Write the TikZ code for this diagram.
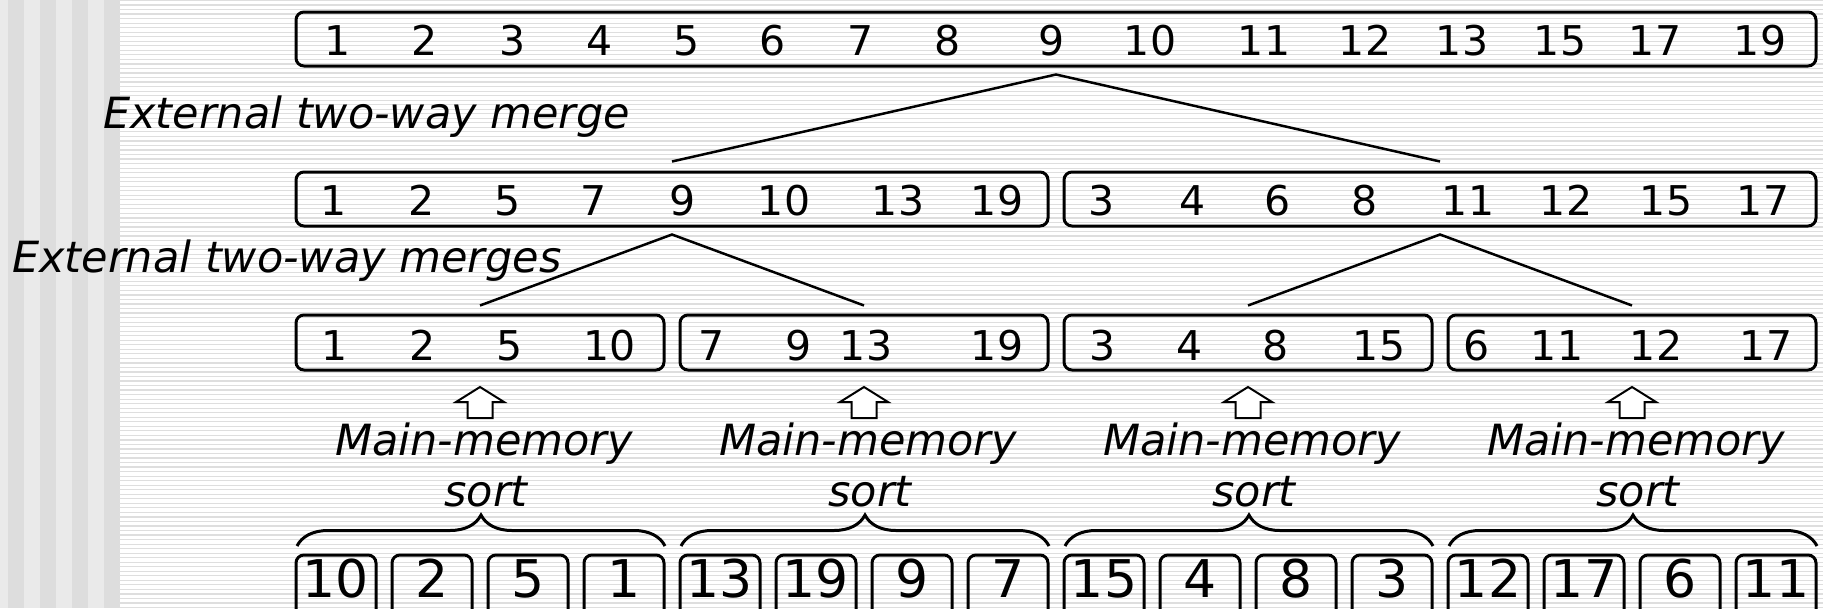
\documentclass[tikz,border=0pt]{standalone}
\usepackage{fontspec}
\setmainfont{DejaVu Sans}[ItalicFont={DejaVu Sans Oblique}]
\usetikzlibrary{calc,decorations.pathreplacing}
\definecolor{stripeA}{RGB}{234,234,234}
\definecolor{stripeB}{RGB}{221,221,221}
\definecolor{ruleline}{RGB}{222,222,222}
\tikzset{
  runbox/.style={draw, line width=3pt, rounded corners=8pt, inner sep=0pt, fill=none},
  num/.style={anchor=base, inner sep=0pt, font=\fontsize{41}{49}\selectfont},
  bignum/.style={anchor=base, inner sep=0pt, font=\fontsize{52}{60}\selectfont},
  lbl/.style={anchor=base, inner sep=0pt, font=\fontsize{43}{51}\selectfont\itshape},
  conn/.style={line width=2.5pt, line join=miter},
  brc/.style={decorate, decoration={brace, amplitude=31pt}, line width=3pt},
  blockarrow/.style={draw, line width=2pt, fill=white, line join=miter}
}
\begin{document}
\begin{tikzpicture}[x=1pt, y=-1pt]
\useasboundingbox (0,0) rectangle (1823,608);
% slide background: vertical bands on the left, ruled paper on the right
\fill[white] (0,0) rectangle (1823,608);
\fill[stripeA] (0,0) rectangle (119,608);
\foreach \a in {8,40,72,104} \fill[stripeB] (\a,0) rectangle (\a+16,608);
\foreach \k in {0,...,134} \draw[ruleline, line width=1.2pt] (119,0.5+4.53*\k) -- (1823,0.5+4.53*\k);
\clip (0,0) rectangle (1823,608);

% fully merged run
\node[runbox, minimum width=1520pt, minimum height=54pt] (r1) at (1056,39) {};
\foreach \v/\x in {1/338,2/425,3/513,4/600,5/687,6/773,7/861,8/948,9/1052,10/1150,11/1264,12/1365,13/1462,15/1560,17/1655,19/1760}
  \node[num] (t\v) at (\x,55) {\v};

% runs after the first merge pass
\node[runbox, minimum width=752pt, minimum height=54pt] (r2a) at (672,199) {};
\node[runbox, minimum width=752pt, minimum height=54pt] (r2b) at (1440,199) {};
\foreach \v/\x [count=\i] in {1/334,2/422,5/508,7/594,9/683,10/784,13/898,19/997}
  \node[num] (ma\i) at (\x,215) {\v};
\foreach \v/\x [count=\i] in {3/1102,4/1193,6/1278,8/1365,11/1468,12/1566,15/1666,17/1763}
  \node[num] (mb\i) at (\x,215) {\v};

% sorted runs of four
\foreach \c/\n in {480/1,864/2,1248/3,1632/4}
  \node[runbox, minimum width=368pt, minimum height=55pt] (r3\n) at (\c,342.5) {};
\foreach \v/\x [count=\i] in {1/335,2/423,5/510,10/610,7/712,9/799,13/866,19/997,3/1103,4/1190,8/1276,15/1379,6/1477,11/1557,12/1656,17/1766}
  \node[num] (s\i) at (\x,360) {\v};

% unsorted input blocks
\foreach \v [count=\i from 0] in {10,2,5,1,13,19,9,7,15,4,8,3,12,17,6,11} {
  \pgfmathsetmacro{\bx}{336+96*\i}
  \node[runbox, minimum width=80pt, minimum height=85pt] (b\i) at (\bx,597.5) {};
  \node[bignum] (bv\i) at (\bx,597) {\v};
}

% merge trees
\draw[conn] ($(r2a.north)+(0,-9)$) -- ($(r1.south)+(0,7)$) -- ($(r2b.north)+(0,-9)$);
\draw[conn] ($(r31.north)+(0,-8)$) -- ($(r2a.south)+(0,7)$) -- ($(r32.north)+(0,-8)$);
\draw[conn] ($(r33.north)+(0,-8)$) -- ($(r2b.south)+(0,7)$) -- ($(r34.north)+(0,-8)$);

\node[lbl, anchor=base west] (lab1) at (103,128) {External two-way merge};
\node[lbl, anchor=base west] (lab2) at (12,272) {External two-way merges};

% main-memory sort of each group of four blocks
\foreach \n/\c in {1/480,2/864,3/1248,4/1632} {
  \draw[blockarrow] (\c-12.5,418) -- (\c-12.5,402) -- (\c-24,402) -- (\c,387)
     -- (\c+24,402) -- (\c+12.5,402) -- (\c+12.5,418) -- cycle;
  \node[lbl] (mm\n) at (\c+4,455) {Main-memory};
  \node[lbl] (so\n) at (\c+6,506) {sort};
  \draw[brc] (\c-183,546) -- (\c+185,546);
}
\end{tikzpicture}
\end{document}
